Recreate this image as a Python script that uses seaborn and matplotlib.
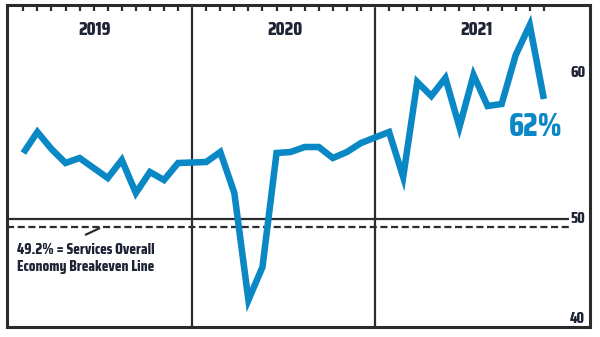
import matplotlib
matplotlib.use("Agg")
import matplotlib.pyplot as plt
import matplotlib.transforms as mtransforms
from matplotlib import font_manager
from matplotlib.ft2font import FT2Font
import pandas as pd
import seaborn as sns

# Monthly services index readings, one list per year (Jan..Dec)
years = ["2019", "2020", "2021"]
values_2019 = [56.6, 58.7, 57.0, 55.6, 56.1, 55.1, 54.1, 55.9, 52.6, 54.7, 53.9, 55.6]
values_2020 = [55.7, 56.7, 52.6, 41.9, 45.2, 56.6, 56.7, 57.2, 57.2, 56.1, 56.7, 57.6]
values_2021 = [58.7, 54.2, 63.7, 62.3, 64.1, 59.2, 64.4, 61.3, 61.5, 66.4, 69.4, 62.0]
breakeven = 49.2
reference_level = 50
axis_labels = ["60", "50", "40"]
note_text = "49.2% = Services Overall\nEconomy Breakeven Line"

BLUE = "#0A87C5"
INK = "#2B2B2E"
TEXT = "#1E2436"
DPI = 100

# Wanted set width of the first note line, in multiples of digit height
TARGET_RATIO = 13.0


def _weight_num(w):
    names = {"ultralight": 200, "light": 300, "normal": 400, "regular": 400,
             "book": 400, "medium": 500, "roman": 400, "semibold": 600,
             "demibold": 600, "bold": 700, "heavy": 800, "extra bold": 800,
             "black": 900}
    if isinstance(w, (int, float)):
        return w
    return names.get(str(w).lower(), 400)


def pick_condensed_bold(sample, probe):
    """Bold upright face covering every character, closest to the wanted width."""
    needed = {ord(c) for c in sample if not c.isspace()}
    best = None
    seen = set()
    for e in font_manager.fontManager.ttflist:
        if e.fname in seen or e.style != "normal":
            continue
        seen.add(e.fname)
        low = e.fname.lower()
        if "cjk" in low or "mono" in low:
            continue
        w = _weight_num(e.weight)
        if w < 650 or w > 800:
            continue
        try:
            f = FT2Font(e.fname)
            if not needed.issubset(f.get_charmap().keys()):
                continue
            f.set_size(100, 72)
            f.set_text(probe)
            width, _ = f.get_width_height()
            f.set_text("4")
            _, height = f.get_width_height()
        except Exception:
            continue
        if height <= 0:
            continue
        ratio = width / height
        score = abs(ratio - TARGET_RATIO)
        cap = height / 64.0 / 100.0
        if best is None or score < best[0]:
            best = (score, e.fname, cap)
    if best is None:
        return font_manager.FontProperties(family="DejaVu Sans", weight="bold"), 0.73
    return font_manager.FontProperties(fname=best[1]), best[2]


# Each year takes 13 slots: 12 months plus one gap holding the divider
slots = 13
rows = []
for i, vals in enumerate([values_2019, values_2020, values_2021]):
    for m, v in enumerate(vals):
        rows.append({"pos": i * slots + m, "value": v, "year": years[i]})
df = pd.DataFrame(rows)

sns.set_theme(style="white")
fp, cap_frac = pick_condensed_bold(
    note_text + "".join(years) + "".join(axis_labels) + "0123456789%",
    note_text.split("\n")[0])


def font(cap_px):
    """Font sized so that digits stand cap_px pixels tall."""
    p = fp.copy()
    p.set_size(cap_px / cap_frac * 72 / DPI)
    return p


fig = plt.figure(figsize=(6.0, 3.37), dpi=DPI)
ax = fig.add_axes([7 / 600, 10 / 337, 583 / 600, 322 / 337])

ax.set_xlim(-1.16, 40.28)
ax.set_ylim(39.2, 71.4)

# Reference lines at 50 and the breakeven level
line_end = 38.78
ax.plot([-1.16, line_end], [reference_level, reference_level], color=INK, lw=1.6,
        solid_capstyle="butt", zorder=2)
ax.plot([-1.16, line_end], [breakeven, breakeven], color=INK, lw=1.6,
        dashes=(3.2, 1.6), zorder=2)

# Year dividers
for i in range(1, len(years)):
    ax.axvline(i * slots - 1, ymin=0, ymax=0.99, color=INK, lw=1.6, zorder=2)

# Month ticks hanging from the top edge
trans_top = mtransforms.blended_transform_factory(ax.transData, ax.transAxes)
for p in df["pos"]:
    ax.plot([p, p], [1.0, 0.982], transform=trans_top, color=INK, lw=1.6,
            solid_capstyle="butt", zorder=3, clip_on=False)

# The series
sns.lineplot(data=df, x="pos", y="value", ax=ax, color=BLUE, lw=4.7,
             sort=True, estimator=None, zorder=4)
for ln in ax.get_lines()[-1:]:
    ln.set_solid_joinstyle("miter")
    ln.set_solid_capstyle("butt")

# Year headings
for yr, xc in zip(years, [5.1, 18.6, 32.2]):
    ax.text(xc, 0.93, yr, transform=trans_top, ha="center", va="center_baseline",
            fontproperties=font(13), color=TEXT)

# Right-hand scale labels
for lab, yf in zip(axis_labels, [0.792, 0.3416, 0.031]):
    ax.text(39.4, yf, lab, transform=trans_top, ha="center", va="center_baseline",
            fontproperties=font(11), color=TEXT)

# Latest value callout
last_pos = df["pos"].iloc[-1]
last_val = df["value"].iloc[-1]
ax.annotate(f"{last_val:.0f}%", xy=(last_pos, last_val), xytext=(-8, -25),
            textcoords="offset pixels", ha="center", va="center_baseline",
            fontproperties=font(22), color=BLUE)

# Breakeven note with leader line
ax.plot([4.39, 5.45], [48.4, 49.1], color=INK, lw=1.6, solid_capstyle="butt", zorder=3)
ax.text(-0.45, 47.65, note_text, ha="left", va="top", fontproperties=font(10.5),
        color=TEXT, linespacing=1.3)

ax.set_xticks([])
ax.set_yticks([])
ax.set_xlabel("")
ax.set_ylabel("")
for s in ax.spines.values():
    s.set_visible(True)
    s.set_color(INK)
    s.set_linewidth(2.2)

fig.savefig("out.png", dpi=DPI, facecolor="white")
